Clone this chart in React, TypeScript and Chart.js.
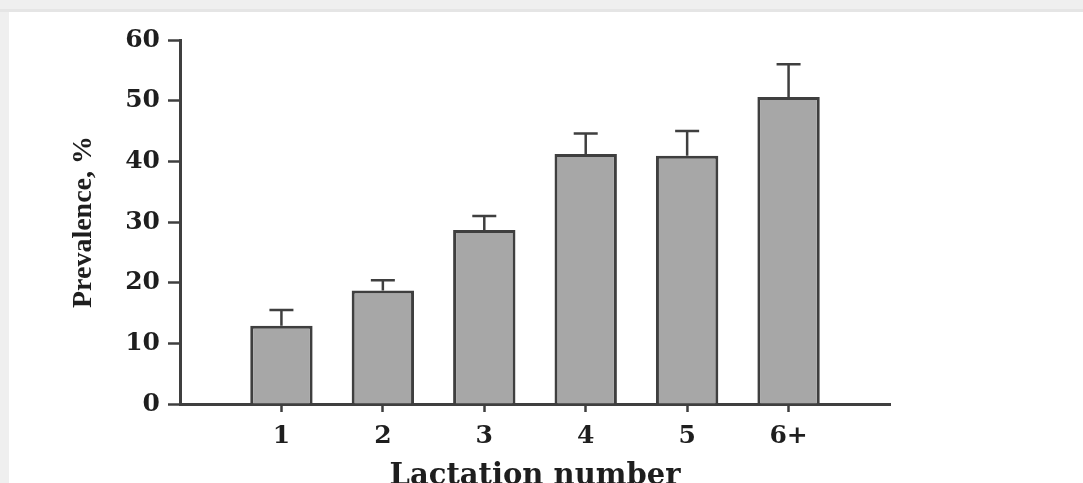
import React, { useEffect, useRef } from 'react';
import { Chart, registerables } from 'chart.js';

Chart.register(...registerables);

const categories = ['1', '2', '3', '4', '5', '6+'];
const prevalence = [12.9, 18.7, 28.7, 41.2, 40.9, 50.6];
const errorUpper = [15.5, 20.4, 31.0, 44.6, 45.0, 56.0];
const yMin = 0;
const yMax = 60;
const yStep = 10;
const xTitle = 'Lactation number';
const yTitle = 'Prevalence, %';

const INK = '#3f3f3f';
const TEXT = '#1e1e1e';

const errorBarPlugin = {
  id: 'errorBars',
  afterDatasetsDraw(chart: any) {
    const meta = chart.getDatasetMeta(0);
    const yScale = chart.scales.y;
    const ctx = chart.ctx;
    ctx.save();
    ctx.strokeStyle = INK;
    ctx.lineWidth = 2.5;
    meta.data.forEach((bar: any, i: number) => {
      const top = yScale.getPixelForValue(errorUpper[i]);
      ctx.beginPath();
      ctx.moveTo(bar.x, bar.y);
      ctx.lineTo(bar.x, top);
      ctx.moveTo(bar.x - 12, top);
      ctx.lineTo(bar.x + 12, top);
      ctx.stroke();
    });
    ctx.restore();
  },
};

export default function App() {
  const canvasRef = useRef<HTMLCanvasElement | null>(null);

  useEffect(() => {
    if (!canvasRef.current) return;
    const chart = new Chart(canvasRef.current, {
      type: 'bar',
      data: {
        datasets: [
          {
            data: prevalence.map((v, i) => ({ x: i + 1, y: v })),
            backgroundColor: '#a7a7a7',
            borderColor: INK,
            borderWidth: 3,
            borderSkipped: 'start',
            barPercentage: 0.615,
            categoryPercentage: 1,
          },
        ],
      },
      options: {
        responsive: false,
        animation: false,
        devicePixelRatio: 1,
        layout: { padding: { left: 0, top: 40, right: 193, bottom: 0 } },
        plugins: {
          legend: { display: false },
          tooltip: { enabled: false },
          title: { display: false },
        },
        scales: {
          x: {
            type: 'linear',
            min: 0,
            max: categories.length + 1,
            offset: false,
            grid: {
              offset: false,
              drawOnChartArea: false,
              drawTicks: true,
              tickLength: 8,
              tickWidth: 2.5,
              tickColor: (c: any) => {
                const v = c.tick ? c.tick.value : -1;
                return v >= 1 && v <= categories.length ? INK : 'rgba(0,0,0,0)';
              },
            },
            border: { display: true, color: INK, width: 3 },
            ticks: {
              stepSize: 1,
              autoSkip: false,
              maxRotation: 0,
              padding: 9,
              color: TEXT,
              font: { family: '"DejaVu Serif"', size: 25, weight: 'bold' },
              callback: (v: any) =>
                v >= 1 && v <= categories.length ? categories[v - 1] : '',
            },
            title: {
              display: true,
              text: xTitle,
              color: TEXT,
              font: { family: '"DejaVu Serif"', size: 29, weight: 'bold' },
              padding: { top: 0, bottom: 6.5 },
            },
            afterFit: (scale: any) => {
              scale.height = 96;
            },
          },
          y: {
            type: 'linear',
            min: yMin,
            max: yMax,
            grid: {
              drawOnChartArea: false,
              drawTicks: true,
              tickLength: 12,
              tickWidth: 2.5,
              tickColor: INK,
            },
            border: { display: true, color: INK, width: 3 },
            ticks: {
              stepSize: yStep,
              padding: 8,
              color: TEXT,
              font: { family: '"DejaVu Serif"', size: 25, weight: 'bold' },
            },
            title: {
              display: true,
              text: yTitle,
              color: TEXT,
              font: { family: '"Liberation Serif"', size: 28, weight: 'bold' },
              padding: { top: 67, bottom: 0 },
            },
            afterFit: (scale: any) => {
              scale.width = 180;
            },
          },
        },
      },
      plugins: [errorBarPlugin],
    } as any);
    return () => chart.destroy();
  }, []);

  return (
    <div
      style={{
        position: 'fixed',
        left: 0,
        top: 0,
        width: 1083,
        height: 483,
        overflow: 'hidden',
        background: '#efefef',
      }}
    >
      <div
        style={{
          position: 'absolute',
          left: 0,
          top: 9,
          width: 1083,
          height: 3,
          background: '#e5e5e5',
        }}
      />
      <div
        style={{
          position: 'absolute',
          left: 9,
          top: 12,
          right: 0,
          bottom: 0,
          background: '#ffffff',
        }}
      />
      <canvas
        ref={canvasRef}
        width={1083}
        height={500}
        style={{ position: 'absolute', left: 0, top: 0, display: 'block' }}
      />
    </div>
  );
}
